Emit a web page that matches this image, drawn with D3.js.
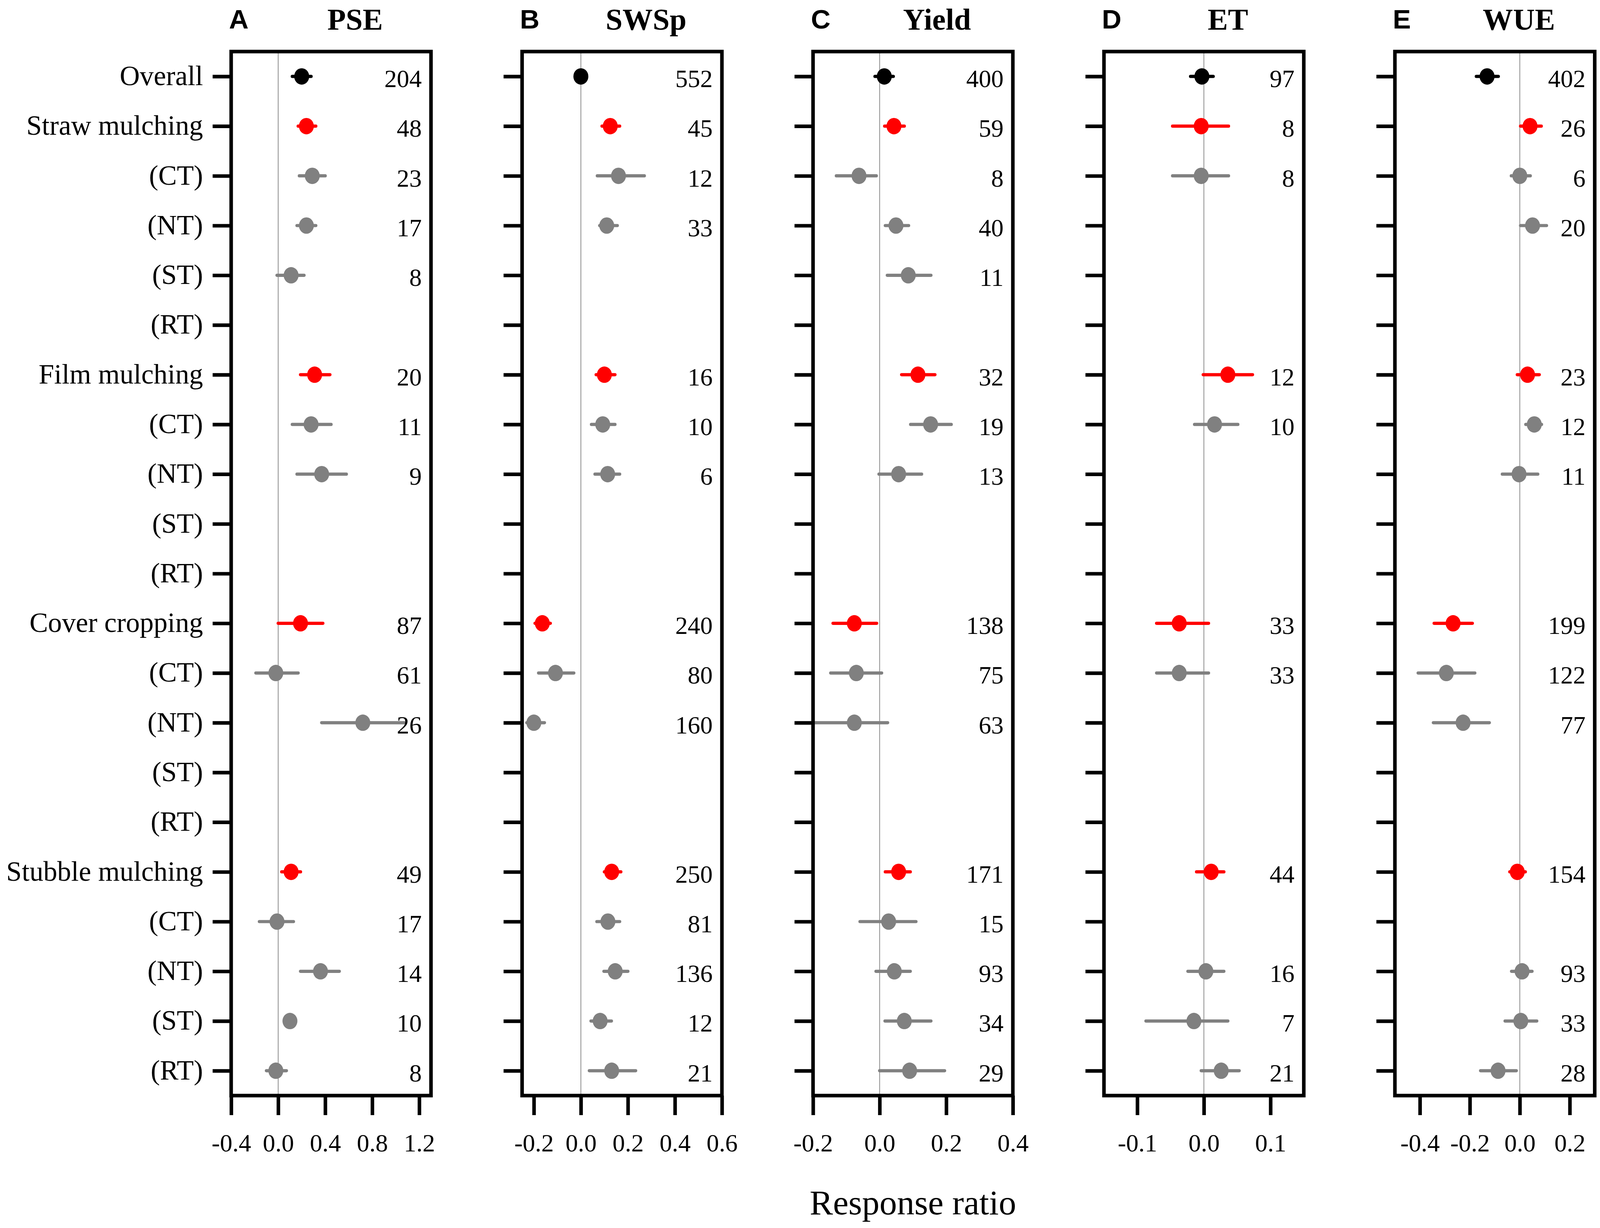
<!DOCTYPE html>
<html lang="en">
<head>
<meta charset="UTF-8">
<title>Response ratio by mulching / tillage</title>
<script src="https://cdn.jsdelivr.net/npm/d3@7"></script>
<style>
  html, body { margin: 0; padding: 0; background: #fff; overflow: hidden; }
  svg { display: block; }
  text { font-family: "Liberation Serif", "Times New Roman", serif; }
</style>
</head>
<body>
<div id="chart"></div>
<script>
// categories (one row each, top to bottom)
var rowLabels = ["Overall", "Straw mulching", "(CT)", "(NT)", "(ST)", "(RT)",
  "Film mulching", "(CT)", "(NT)", "(ST)", "(RT)",
  "Cover cropping", "(CT)", "(NT)", "(ST)", "(RT)",
  "Stubble mulching", "(CT)", "(NT)", "(ST)", "(RT)"];
var rowKind = ["overall", "group", "sub", "sub", "sub", "sub",
  "group", "sub", "sub", "sub", "sub",
  "group", "sub", "sub", "sub", "sub",
  "group", "sub", "sub", "sub", "sub"];

var panelLetters = ["A", "B", "C", "D", "E"];
var panelTitles = ["PSE", "SWSp", "Yield", "ET", "WUE"];
var xDomains = [[-0.4, 1.3], [-0.25, 0.6], [-0.2, 0.4], [-0.15, 0.15], [-0.5, 0.3]];
var xTicks = [[-0.4, 0, 0.4, 0.8, 1.2], [-0.2, 0, 0.2, 0.4, 0.6], [-0.2, 0, 0.2, 0.4], [-0.1, 0, 0.1], [-0.4, -0.2, 0, 0.2]];

// PSE
var pseMean = [0.20, 0.24, 0.29, 0.24, 0.11, null, 0.31, 0.28, 0.37, null, null, 0.19, -0.02, 0.72, null, null, 0.11, -0.01, 0.36, 0.10, -0.02];
var pseLo   = [0.12, 0.17, 0.18, 0.16, -0.01, null, 0.19, 0.12, 0.16, null, null, 0.00, -0.19, 0.37, null, null, 0.03, -0.16, 0.19, 0.07, -0.10];
var pseHi   = [0.28, 0.32, 0.40, 0.32, 0.22, null, 0.44, 0.45, 0.58, null, null, 0.38, 0.17, 1.07, null, null, 0.19, 0.13, 0.52, 0.14, 0.07];
var pseN    = [204, 48, 23, 17, 8, null, 20, 11, 9, null, null, 87, 61, 26, null, null, 49, 17, 14, 10, 8];
// SWSp
var swsMean = [0.00, 0.125, 0.16, 0.11, null, null, 0.10, 0.093, 0.114, null, null, -0.164, -0.108, -0.20, null, null, 0.131, 0.115, 0.146, 0.082, 0.131];
var swsLo   = [-0.01, 0.09, 0.07, 0.08, null, null, 0.065, 0.045, 0.06, null, null, -0.195, -0.18, -0.23, null, null, 0.10, 0.068, 0.098, 0.043, 0.036];
var swsHi   = [0.01, 0.165, 0.27, 0.155, null, null, 0.145, 0.145, 0.165, null, null, -0.13, -0.03, -0.155, null, null, 0.17, 0.165, 0.20, 0.13, 0.233];
var swsN    = [552, 45, 12, 33, null, null, 16, 10, 6, null, null, 240, 80, 160, null, null, 250, 81, 136, 12, 21];
// Yield
var yieldMean = [0.014, 0.043, -0.062, 0.049, 0.086, null, 0.115, 0.153, 0.057, null, null, -0.076, -0.07, -0.076, null, null, 0.057, 0.027, 0.044, 0.074, 0.09];
var yieldLo   = [-0.014, 0.015, -0.13, 0.017, 0.023, null, 0.066, 0.093, -0.002, null, null, -0.14, -0.147, -0.195, null, null, 0.017, -0.059, -0.011, 0.016, 0.0];
var yieldHi   = [0.041, 0.074, -0.01, 0.087, 0.154, null, 0.166, 0.215, 0.126, null, null, -0.009, 0.006, 0.024, null, null, 0.092, 0.109, 0.092, 0.154, 0.195];
var yieldN    = [400, 59, 8, 40, 11, null, 32, 19, 13, null, null, 138, 75, 63, null, null, 171, 15, 93, 34, 29];
// ET
var etMean = [-0.003, -0.004, -0.004, null, null, null, 0.036, 0.016, null, null, null, -0.037, -0.037, null, null, null, 0.011, null, 0.003, -0.015, 0.026];
var etLo   = [-0.02, -0.047, -0.047, null, null, null, -0.001, -0.014, null, null, null, -0.071, -0.071, null, null, null, -0.011, null, -0.024, -0.087, -0.004];
var etHi   = [0.014, 0.037, 0.037, null, null, null, 0.073, 0.051, null, null, null, 0.007, 0.007, null, null, null, 0.030, null, 0.030, 0.036, 0.053];
var etN    = [97, 8, 8, null, null, null, 12, 10, null, null, null, 33, 33, null, null, null, 44, null, 16, 7, 21];
// WUE
var wueMean = [-0.131, 0.041, 0.0, 0.051, null, null, 0.031, 0.058, -0.003, null, null, -0.267, -0.294, -0.227, null, null, -0.01, null, 0.009, 0.004, -0.087];
var wueLo   = [-0.174, 0.003, -0.034, 0.003, null, null, -0.01, 0.024, -0.07, null, null, -0.343, -0.407, -0.346, null, null, -0.04, null, -0.033, -0.059, -0.157];
var wueHi   = [-0.086, 0.086, 0.042, 0.107, null, null, 0.078, 0.087, 0.072, null, null, -0.19, -0.18, -0.122, null, null, 0.022, null, 0.049, 0.068, -0.014];
var wueN    = [402, 26, 6, 20, null, null, 23, 12, 11, null, null, 199, 122, 77, null, null, 154, null, 93, 33, 28];

var means = [pseMean, swsMean, yieldMean, etMean, wueMean];
var lows = [pseLo, swsLo, yieldLo, etLo, wueLo];
var highs = [pseHi, swsHi, yieldHi, etHi, wueHi];
var counts = [pseN, swsN, yieldN, etN, wueN];

var kindColor = { overall: "#000000", group: "#ff0000", sub: "#808080" };

// layout is measured on a 4492 x 3144 sheet, then stretched to the window
var baseW = 4492, baseH = 3144;
var frameTop = 132, frameBottom = 2805;
var frameW = 561, firstLeft = 649, panelStep = 816.8;

var width = window.innerWidth, height = window.innerHeight;
var sx = width / baseW, sy = height / baseH;
var k = Math.min(sx, sy); // fonts and stroke widths

var svg = d3.select("#chart").append("svg")
  .attr("width", width)
  .attr("height", height)
  .style("background", "#fff");

// same row positions for every panel
var y = d3.scalePoint()
  .domain(d3.range(rowLabels.length))
  .range([frameTop * sy, frameBottom * sy])
  .padding(0.5);

panelTitles.forEach(function(title, p) {
  var left = (firstLeft + p * panelStep) * sx;
  var right = left + frameW * sx;
  var x = d3.scaleLinear().domain(xDomains[p]).range([left, right]);
  var g = svg.append("g");

  // zero reference line
  g.append("line")
    .attr("x1", x(0)).attr("x2", x(0))
    .attr("y1", frameTop * sy).attr("y2", frameBottom * sy)
    .attr("stroke", "#999").attr("stroke-width", 2.5 * k);

  var rows = d3.range(rowLabels.length).filter(function(i) { return means[p][i] !== null; });

  // error bars
  g.selectAll(".ci").data(rows).enter().append("line")
    .attr("x1", function(i) { return x(lows[p][i]); })
    .attr("x2", function(i) { return x(highs[p][i]); })
    .attr("y1", function(i) { return y(i); })
    .attr("y2", function(i) { return y(i); })
    .attr("stroke", function(i) { return kindColor[rowKind[i]]; })
    .attr("stroke-width", 9 * k)
    .attr("stroke-linecap", "round");

  // means
  g.selectAll(".pt").data(rows).enter().append("ellipse")
    .attr("cx", function(i) { return x(means[p][i]); })
    .attr("cy", function(i) { return y(i); })
    .attr("rx", 21 * sx)
    .attr("ry", 21 * sy)
    .attr("fill", function(i) { return kindColor[rowKind[i]]; });

  // sample sizes
  g.selectAll(".n").data(rows.filter(function(i) { return counts[p][i] !== null; })).enter().append("text")
    .attr("x", right - 26 * sx)
    .attr("y", function(i) { return y(i) + 30 * k; })
    .attr("text-anchor", "end")
    .attr("font-size", 70 * k)
    .text(function(i) { return counts[p][i]; });

  // left axis with row ticks (labels only on first panel)
  var yAxis = d3.axisLeft(y).tickSize(52 * sx).tickPadding(27 * sx)
    .tickFormat(function(i) { return p === 0 ? rowLabels[i] : ""; });
  var ya = g.append("g").attr("transform", "translate(" + left + ",0)").call(yAxis);
  ya.select(".domain").remove();
  ya.selectAll(".tick line").attr("stroke", "#000").attr("stroke-width", 10 * k);
  ya.selectAll(".tick text")
    .attr("fill", "#000")
    .attr("font-size", 78 * k)
    .attr("font-family", "'Liberation Serif', 'Times New Roman', serif")
    .attr("dy", 24 * k);

  // bottom axis
  var xAxis = d3.axisBottom(x).tickValues(xTicks[p]).tickSize(50 * sy)
    .tickFormat(function(d) { return d.toFixed(1); });
  var xa = g.append("g").attr("transform", "translate(0," + frameBottom * sy + ")").call(xAxis);
  xa.select(".domain").remove();
  xa.selectAll(".tick line").attr("stroke", "#000").attr("stroke-width", 10 * k);
  xa.selectAll(".tick text")
    .attr("fill", "#000")
    .attr("font-size", 70 * k)
    .attr("font-family", "'Liberation Serif', 'Times New Roman', serif")
    .attr("y", 143 * sy).attr("dy", 0);

  // frame
  g.append("rect")
    .attr("x", left).attr("y", frameTop * sy)
    .attr("width", right - left).attr("height", (frameBottom - frameTop) * sy)
    .attr("fill", "none").attr("stroke", "#000").attr("stroke-width", 10 * k);

  // panel letter and title
  g.append("text")
    .attr("x", left - 6 * sx).attr("y", 73 * sy)
    .style("font-family", "'Liberation Sans', Arial, sans-serif")
    .attr("font-weight", "bold").attr("font-size", 76 * k)
    .text(panelLetters[p]);
  g.append("text")
    .attr("x", left + 348 * sx).attr("y", 76 * sy)
    .attr("text-anchor", "middle")
    .attr("font-weight", "bold").attr("font-size", 85 * k)
    .text(title);
});

svg.append("text")
  .attr("x", (firstLeft + (4 * panelStep + frameW) / 2) * sx)
  .attr("y", 3109 * sy)
  .attr("text-anchor", "middle")
  .attr("font-size", 98 * k)
  .text("Response ratio");
</script>
</body>
</html>
